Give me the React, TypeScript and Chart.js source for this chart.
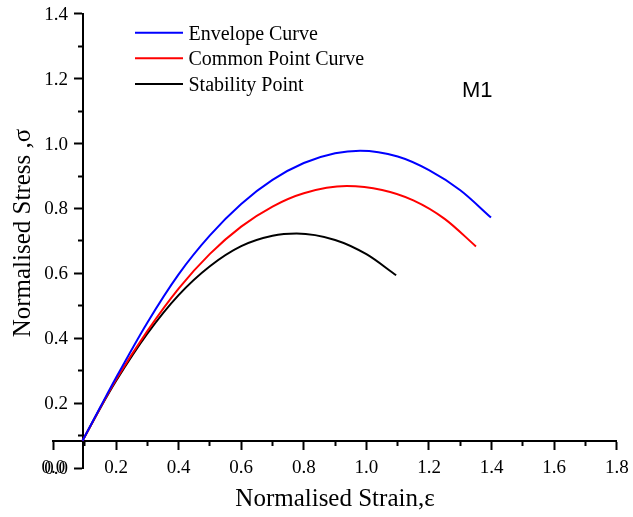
import React, { useEffect, useRef } from "react";
import { Chart, registerables } from "chart.js";

Chart.register(...registerables);

// Envelope Curve (blue)
const envelopeX = [0.093, 0.15, 0.2, 0.3, 0.4, 0.5, 0.6, 0.7, 0.8, 0.9, 0.98, 1.1, 1.2, 1.3, 1.398];
const envelopeY = [0.084, 0.188, 0.278, 0.448, 0.597, 0.717, 0.814, 0.888, 0.94, 0.97, 0.978, 0.96, 0.918, 0.856, 0.772];

// Common Point Curve (red)
const commonX = [0.093, 0.15, 0.2, 0.3, 0.4, 0.5, 0.6, 0.7, 0.8, 0.937, 1.05, 1.15, 1.25, 1.35];
const commonY = [0.084, 0.186, 0.272, 0.422, 0.553, 0.66, 0.744, 0.806, 0.847, 0.869, 0.857, 0.825, 0.768, 0.683];

// Stability Point (black)
const stabilityX = [0.093, 0.15, 0.2, 0.3, 0.4, 0.5, 0.6, 0.7, 0.777, 0.9, 1.0, 1.095];
const stabilityY = [0.084, 0.185, 0.268, 0.414, 0.533, 0.622, 0.684, 0.716, 0.723, 0.703, 0.659, 0.594];

const seriesNames = ["Envelope Curve", "Common Point Curve", "Stability Point"];
const seriesColors = ["#0000ff", "#ff0000", "#000000"];

const xTickValues = [0, 0.2, 0.4, 0.6, 0.8, 1.0, 1.2, 1.4, 1.6, 1.8];
const yTickValues = [0, 0.2, 0.4, 0.6, 0.8, 1.0, 1.2, 1.4];

const xTitle = "Normalised Strain,\u03b5";
const yTitle = "Normalised Stress ,\u03c3";
const panelLabel = "M1";

const xMin = 0, xMax = 1.8, yMin = 0, yMax = 1.4;
const xAxisCross = 0.084; // y value where x axis is drawn
const yAxisCross = 0.093; // x value where y axis is drawn

const zip = (xs: number[], ys: number[]) => xs.map((x, i) => ({ x, y: ys[i] }));

const serif = "'Liberation Serif', 'Times New Roman', serif";

const tickDash = (ctx: any) => {
  const v = ctx.tick ? ctx.tick.value : 0;
  const n = Math.round(Number(v) * 10);
  return n % 2 === 0 ? [] : [4, 40];
};

const overlayPlugin = {
  id: "overlay",
  afterDraw(chart: any) {
    const c = chart.ctx;
    const xs = chart.scales.x;
    const ys = chart.scales.y;
    c.save();
    c.font = `19px ${serif}`;
    c.fillStyle = "#000";
    c.textBaseline = "middle";
    // y tick labels (left of the crossing y axis)
    const yAxisPx = xs.getPixelForValue(yAxisCross);
    c.textAlign = "right";
    yTickValues.forEach((v) => {
      c.fillText(v.toFixed(1), yAxisPx - 14.5, ys.getPixelForValue(v) + 1);
    });
    // x tick labels (below the crossing x axis)
    const xAxisPx = ys.getPixelForValue(xAxisCross);
    c.textAlign = "center";
    xTickValues.forEach((v) => {
      c.fillText(v.toFixed(1), xs.getPixelForValue(v), xAxisPx + 27);
    });
    // legend
    const rows = [32.7, 58.3, 84];
    c.font = `20px ${serif}`;
    c.textBaseline = "alphabetic";
    c.textAlign = "left";
    rows.forEach((ry, i) => {
      c.strokeStyle = seriesColors[i];
      c.lineWidth = 2;
      c.beginPath();
      c.moveTo(135, ry);
      c.lineTo(183, ry);
      c.stroke();
      c.fillStyle = "#000";
      c.fillText(seriesNames[i], 188.5, ry + 6.8);
    });
    // panel label
    c.font = "22px 'Liberation Sans', Arial, sans-serif";
    c.fillText(panelLabel, 462, 96.5);
    // axis titles
    c.font = `25px ${serif}`;
    c.textAlign = "center";
    c.fillText(xTitle, 335, 506);
    c.translate(30, 233);
    c.rotate(-Math.PI / 2);
    c.fillText(yTitle, 0, 0);
    c.restore();
  },
};

const gridOpts = {
  display: true,
  drawOnChartArea: false,
  drawTicks: true,
  tickLength: 8,
  tickWidth: 2,
  tickColor: "#000",
  tickBorderDash: tickDash as any,
};

export default function App() {
  const ref = useRef<HTMLCanvasElement | null>(null);
  useEffect(() => {
    if (!ref.current) return;
    const chart = new Chart(ref.current, {
      type: "scatter",
      data: {
        datasets: [
          { label: seriesNames[0], data: zip(envelopeX, envelopeY) },
          { label: seriesNames[1], data: zip(commonX, commonY) },
          { label: seriesNames[2], data: zip(stabilityX, stabilityY) },
        ].map((d, i) => ({
          ...d,
          showLine: true,
          borderColor: seriesColors[i],
          backgroundColor: seriesColors[i],
          borderWidth: 2,
          pointRadius: 0,
          cubicInterpolationMode: "monotone" as const,
          fill: false,
        })),
      },
      options: {
        animation: false,
        responsive: false,
        layout: { padding: { left: 53.4, right: 16.2, top: 13.8, bottom: 49 } },
        plugins: { legend: { display: false }, tooltip: { enabled: false } },
        scales: {
          x: {
            type: "linear",
            min: xMin,
            max: xMax,
            position: { y: xAxisCross } as any,
            border: { display: true, color: "#000", width: 2 },
            grid: gridOpts,
            ticks: { display: false, stepSize: 0.1, autoSkip: false, maxRotation: 0 },
          },
          y: {
            type: "linear",
            min: yMin,
            max: yMax,
            position: { x: yAxisCross } as any,
            border: { display: true, color: "#000", width: 2 },
            grid: gridOpts,
            ticks: { display: false, stepSize: 0.1, autoSkip: false },
          },
        },
      },
      plugins: [overlayPlugin],
    });
    return () => chart.destroy();
  }, []);
  return (
    <div style={{ position: "fixed", left: 0, top: 0, width: 633, height: 517, background: "#fff" }}>
      <canvas ref={ref} width={633} height={517} style={{ display: "block" }} />
    </div>
  );
}
